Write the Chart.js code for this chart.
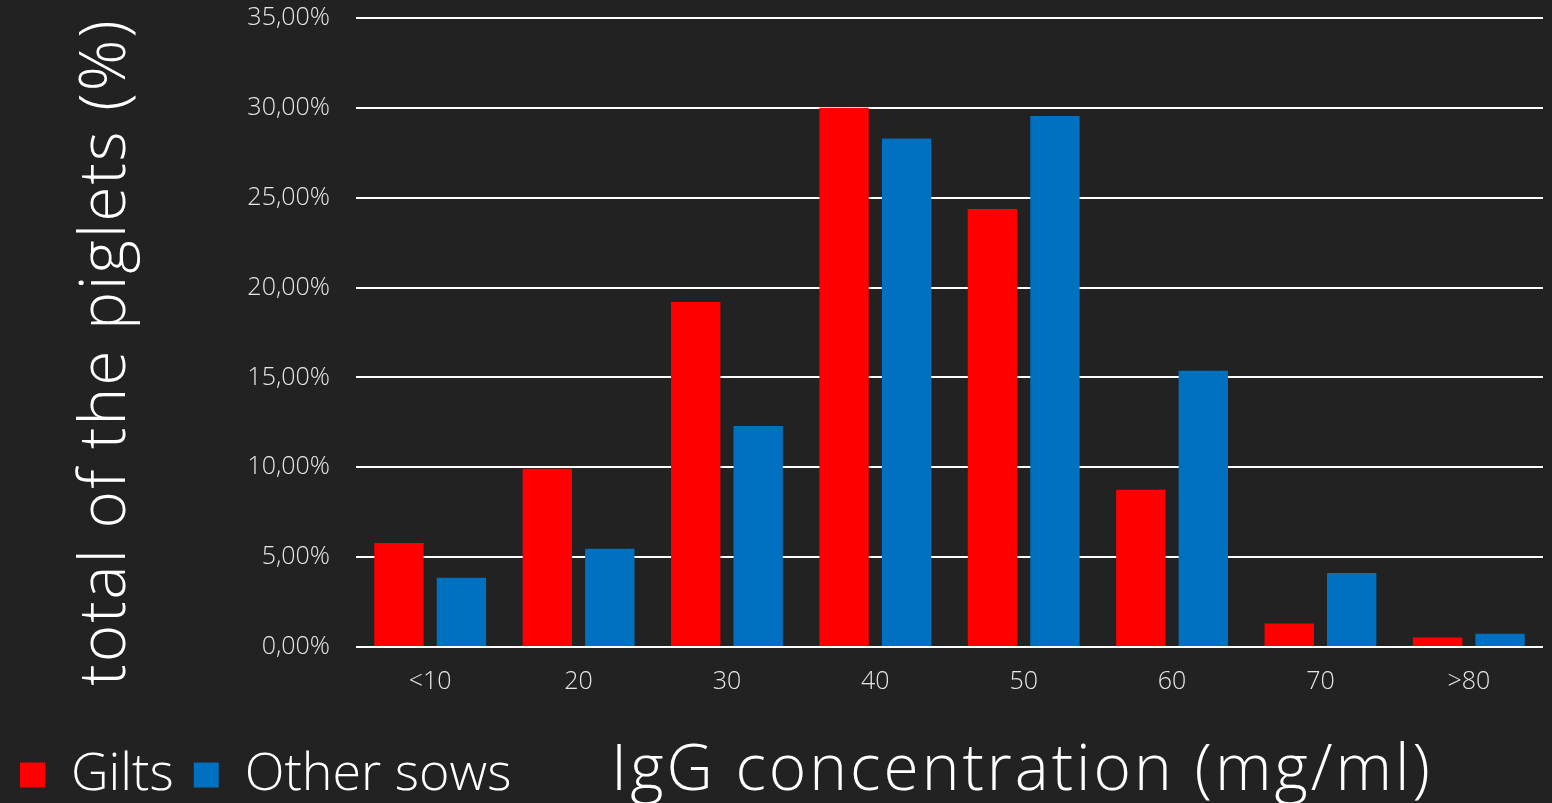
<!DOCTYPE html>
<html>
<head>
<meta charset="utf-8">
<script src="https://cdn.jsdelivr.net/npm/chart.js@4"></script>
<style>
  html, body { margin: 0; padding: 0; background: #222222; }
  #wrap { width: 1552px; height: 803px; position: relative; }
</style>
</head>
<body>
<div id="wrap"><canvas id="grafico"></canvas></div>
<script>
// datos
var categorias = ['<10', '20', '30', '40', '50', '60', '70', '>80'];
var gilts = [5.79, 9.92, 19.2, 30.0, 24.37, 8.75, 1.31, 0.53];
var otherSows = [3.86, 5.47, 12.3, 28.3, 29.55, 15.37, 4.12, 0.74];
var yTicks = [0, 5, 10, 15, 20, 25, 30, 35];
var tituloY = 'total of the piglets (%)';
var tituloX = 'IgG concentration (mg/ml)';

var fuente = 'Open Sans';

// titulos de los ejes: el del eje x va en la misma fila que la leyenda
var titulosPlugin = {
    id: 'titulos',
    afterDraw: function (chart) {
        var ctx = chart.ctx;
        ctx.save();
        ctx.font = '300 64px "' + fuente + '"';
        ctx.fillStyle = '#ffffff';
        ctx.textAlign = 'center';
        ctx.textBaseline = 'alphabetic';
        ctx.letterSpacing = '3px';
        ctx.fillText(tituloX, 1022, 790);
        ctx.letterSpacing = '2px';
        ctx.translate(125, 352);
        ctx.rotate(-Math.PI / 2);
        ctx.fillText(tituloY, 0, 0);
        ctx.restore();
    }
};

var grafico = new Chart(document.getElementById('grafico').getContext('2d'), {
    type: 'bar',
    data: {
        labels: categorias,
        datasets: [{
            label: 'Gilts',
            data: gilts,
            backgroundColor: '#ff0000',
            borderWidth: 0
        }, {
            label: 'Other sows',
            data: otherSows,
            backgroundColor: '#0070c0',
            borderWidth: 0
        }]
    },
    options: {
        responsive: true,
        maintainAspectRatio: false,
        animation: false,
        categoryPercentage: 0.842,
        barPercentage: 0.79,
        layout: {
            padding: { top: 18, right: 9, left: 0, bottom: -8 }
        },
        plugins: {
            tooltip: { enabled: false },
            legend: {
                position: 'bottom',
                align: 'start',
                labels: {
                    color: '#ffffff',
                    font: { family: fuente, size: 52, weight: '300' },
                    boxWidth: 25,
                    boxHeight: 25,
                    padding: 20
                }
            }
        },
        scales: {
            x: {
                afterFit: function (axis) {
                    axis.height = 811 - 647 - axis.chart.legend.height;
                },
                grid: { display: false, drawTicks: false },
                border: { display: false },
                ticks: {
                    color: '#e6e6e6',
                    padding: 20,
                    font: { family: fuente, size: 25, weight: '300' }
                }
            },
            y: {
                min: 0,
                max: 35,
                afterBuildTicks: function (axis) {
                    axis.ticks = yTicks.map(function (v) { return { value: v }; });
                },
                afterFit: function (axis) {
                    axis.width = 356;
                    axis.paddingTop = 0;
                    axis.paddingBottom = 0;
                },
                grid: {
                    color: '#ffffff',
                    lineWidth: 2,
                    drawTicks: false
                },
                border: { display: false },
                ticks: {
                    color: '#e6e6e6',
                    padding: 26,
                    font: { family: fuente, size: 25, weight: '300' },
                    callback: function (v) {
                        return v.toFixed(2).replace('.', ',') + '%';
                    }
                }
            }
        }
    },
    plugins: [titulosPlugin]
});
</script>
</body>
</html>
